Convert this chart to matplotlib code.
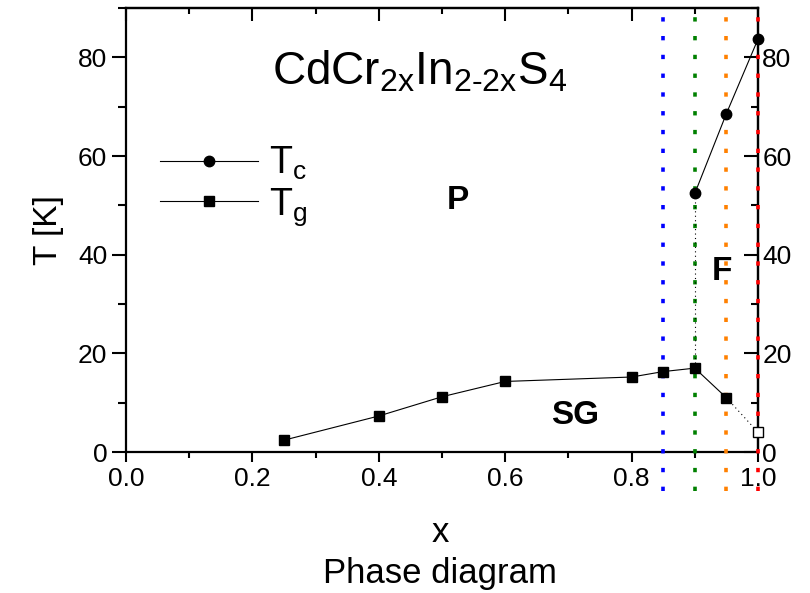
import matplotlib
matplotlib.use("Agg")
import matplotlib.pyplot as plt
from matplotlib.lines import Line2D
from matplotlib.ticker import MultipleLocator, FormatStrFormatter

plt.rcParams['font.family'] = ['Liberation Sans', 'DejaVu Sans']
plt.rcParams['mathtext.fontset'] = 'custom'
plt.rcParams['mathtext.rm'] = 'Liberation Sans'
plt.rcParams['mathtext.it'] = 'Liberation Sans:italic'

# Curie temperature (ferromagnet) and spin-glass freezing temperature
x_tc = [0.90, 0.95, 1.00]
t_c = [52.4, 68.6, 83.7]
x_tg = [0.25, 0.40, 0.50, 0.60, 0.80, 0.85, 0.90, 0.95]
t_g = [2.4, 7.3, 11.2, 14.3, 15.2, 16.3, 17.0, 11.0]
x_tg_end = 1.00
t_g_end = 4.0

# compositions marked with vertical dotted lines
x_marks = [0.85, 0.90, 0.95, 1.00]
mark_colors = ['#0000ff', '#008000', '#ff8000', '#ff0000']

fig = plt.figure(figsize=(8.1, 5.93), dpi=100)
ax = fig.add_axes([126 / 810, 1 - 452 / 593, 632 / 810, 444 / 593])
ax.set_xlim(0, 1.0)
ax.set_ylim(0, 90)

# vertical markers
for xm, c in zip(x_marks, mark_colors):
    ax.plot([xm, xm], [-8, 90], color=c, lw=2.6, ls=(0, (1.2, 4)),
            clip_on=False, zorder=5)

# data
ax.plot(x_tc, t_c, '-o', color='black', lw=0.8, ms=7.5, zorder=6, clip_on=False)
ax.plot(x_tg, t_g, '-s', color='black', lw=0.8, ms=7, zorder=6, clip_on=False)
ax.plot([x_tc[0], x_tg[6]], [t_c[0], t_g[6]], color='black', lw=0.8, ls=(0, (1, 3)), zorder=6)
ax.plot([x_tg[-1], x_tg_end], [t_g[-1], t_g_end], color='black', lw=0.8, ls=(0, (1, 3)), zorder=6)
ax.plot([x_tg_end], [t_g_end], 's', mfc='white', mec='black', mew=1, ms=7,
        clip_on=False, zorder=7)

# axes styling
for sp in ax.spines.values():
    sp.set_linewidth(1.6)
ax.xaxis.set_major_locator(MultipleLocator(0.2))
ax.xaxis.set_minor_locator(MultipleLocator(0.1))
ax.yaxis.set_major_locator(MultipleLocator(20))
ax.yaxis.set_minor_locator(MultipleLocator(10))
ax.tick_params(which='both', direction='out', width=1.5, labelsize=19)
ax.tick_params(which='major', length=7)
ax.tick_params(which='minor', length=4)
ax.tick_params(axis='y', which='major', length=10)
ax.tick_params(axis='y', which='minor', length=6)
ax.xaxis.set_major_formatter(FormatStrFormatter('%.1f'))

axr = ax.secondary_yaxis('right')
axr.yaxis.set_major_locator(MultipleLocator(20))
axr.yaxis.set_minor_locator(MultipleLocator(10))
axr.tick_params(which='both', direction='in', width=1.5, labelsize=19, pad=3)
axr.tick_params(which='major', length=10)
axr.tick_params(which='minor', length=5)
axr.spines['right'].set_linewidth(1.6)
axr.yaxis.get_offset_text().set_visible(False)

axt = ax.secondary_xaxis('top')
axt.xaxis.set_major_locator(MultipleLocator(0.2))
axt.xaxis.set_minor_locator(MultipleLocator(0.1))
axt.tick_params(which='both', direction='in', width=1.5, labeltop=False)
axt.tick_params(which='major', length=9)
axt.tick_params(which='minor', length=4)
axt.spines['top'].set_linewidth(1.6)
axt.xaxis.get_offset_text().set_visible(False)
ax.yaxis.get_offset_text().set_visible(False)
ax.xaxis.get_offset_text().set_visible(False)

ax.set_ylabel('T [K]', fontsize=24, labelpad=10)
fig.text(440 / 810, 1 - 532 / 593, 'x', fontsize=25, ha='center', va='center')
fig.text(440 / 810, 1 - 574 / 593, 'Phase diagram', fontsize=25, ha='center', va='center')

ax.text(0.465, 77, r'CdCr$_{\mathregular{2x}}$In$_{\mathregular{2\text{-}2x}}$S$_{\mathregular{4}}$',
        fontsize=33, ha='center', va='center')
ax.text(0.525, 51, 'P', fontsize=24, fontweight='bold', ha='center', va='center')
ax.text(0.943, 36.5, 'F', fontsize=24, fontweight='bold', ha='center', va='center')
ax.text(0.71, 7.5, 'SG', fontsize=24, fontweight='bold', ha='center', va='center')

handles = [Line2D([], [], color='black', lw=0.8, marker='o', ms=7.5),
           Line2D([], [], color='black', lw=0.8, marker='s', ms=7)]
ax.legend(handles, [r'T$_{\mathregular{c}}$', r'T$_{\mathregular{g}}$'],
          loc='upper left', bbox_to_anchor=((160 - 126) / 632, (452 - 145) / 444),
          frameon=False, fontsize=27, handlelength=2.6, handletextpad=0.3,
          borderpad=0, borderaxespad=0, labelspacing=0.1)

fig.savefig('out.png', dpi=100)
